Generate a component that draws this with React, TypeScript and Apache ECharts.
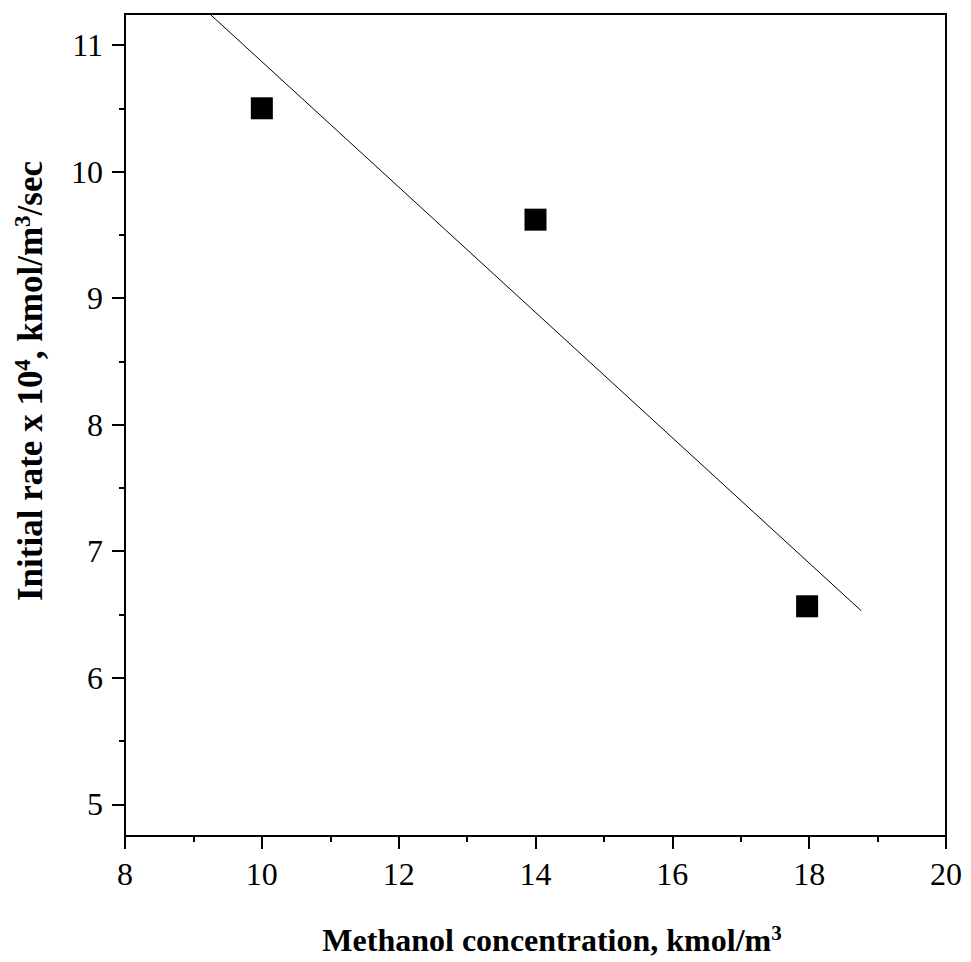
import React, { useEffect, useRef } from "react";
import * as echarts from "echarts";

const concentration = [10, 14, 17.97];
const initialRate = [10.5, 9.62, 6.565];
const fitX = [9.24, 18.76];
const fitY = [11.245, 6.53];
const yMajorTicks = [5, 6, 7, 8, 9, 10, 11];
const yMinorTicks = [5.5, 6.5, 7.5, 8.5, 9.5, 10.5];

const FONT = "'Liberation Serif', 'Times New Roman', serif";

export default function App() {
  const ref = useRef<HTMLDivElement>(null);
  useEffect(() => {
    if (!ref.current) return;
    const chart = echarts.init(ref.current, null, { renderer: "svg" });
    const points = concentration.map((x, i) => [x, initialRate[i]]);
    const fit = fitX.map((x, i) => [x, fitY[i]]);
    const axisLine = { show: true, lineStyle: { color: "#000", width: 2 } };
    chart.setOption({
      animation: false,
      backgroundColor: "#fff",
      grid: {
        left: 125,
        top: 14,
        right: 25,
        bottom: 126,
        show: true,
        borderColor: "#000",
        borderWidth: 2,
        backgroundColor: "transparent",
      },
      xAxis: {
        type: "value",
        min: 8,
        max: 20,
        interval: 2,
        axisLine,
        axisTick: { show: true, length: 13, lineStyle: { color: "#000", width: 2 } },
        minorTick: { show: true, splitNumber: 2, length: 6, lineStyle: { color: "#000", width: 2 } },
        splitLine: { show: false },
        axisLabel: { margin: 22, color: "#000", fontFamily: FONT, fontSize: 32 },
      },
      yAxis: [
        {
          type: "value",
          min: 4.75,
          max: 11.245,
          axisLine,
          axisTick: { show: true, length: 13, customValues: yMajorTicks, lineStyle: { color: "#000", width: 2 } },
          splitLine: { show: false },
          axisLabel: { margin: 22, color: "#000", fontFamily: FONT, fontSize: 32, customValues: yMajorTicks },
        },
        {
          type: "value",
          min: 4.75,
          max: 11.245,
          position: "left",
          axisLine: { show: false },
          axisTick: { show: true, length: 6, customValues: yMinorTicks, lineStyle: { color: "#000", width: 2 } },
          splitLine: { show: false },
          axisLabel: { show: false },
        },
      ],
      graphic: [
        {
          type: "text",
          x: 552,
          y: 940,
          style: {
            text: "{b|Methanol concentration, kmol/m}{s|3}",
            align: "center",
            verticalAlign: "middle",
            rich: {
              b: { fontFamily: FONT, fontSize: 32, fontWeight: "bold", fill: "#000" },
              s: { fontFamily: FONT, fontSize: 21, fontWeight: "bold", fill: "#000", padding: [0, 0, 14, 0] },
            },
          },
        },
        {
          type: "text",
          x: 30,
          y: 381,
          rotation: Math.PI / 2,
          style: {
            text: "{b|Initial rate x 10}{s|4}{b|, kmol/m}{s|3}{b|/sec}",
            align: "center",
            verticalAlign: "middle",
            rich: {
              b: { fontFamily: FONT, fontSize: 35, fontWeight: "bold", fill: "#000" },
              s: { fontFamily: FONT, fontSize: 23, fontWeight: "bold", fill: "#000", padding: [0, 0, 15, 0] },
            },
          },
        },
      ],
      series: [
        {
          type: "line",
          data: fit,
          showSymbol: false,
          clip: true,
          lineStyle: { color: "#000", width: 1 },
          silent: true,
        },
        {
          type: "scatter",
          data: points,
          symbol: "rect",
          symbolSize: 22,
          itemStyle: { color: "#000", opacity: 1 },
        },
      ],
    });
    return () => chart.dispose();
  }, []);
  return (
    <div
      ref={ref}
      style={{ position: "absolute", left: 0, top: 0, width: 971, height: 962 }}
    />
  );
}
